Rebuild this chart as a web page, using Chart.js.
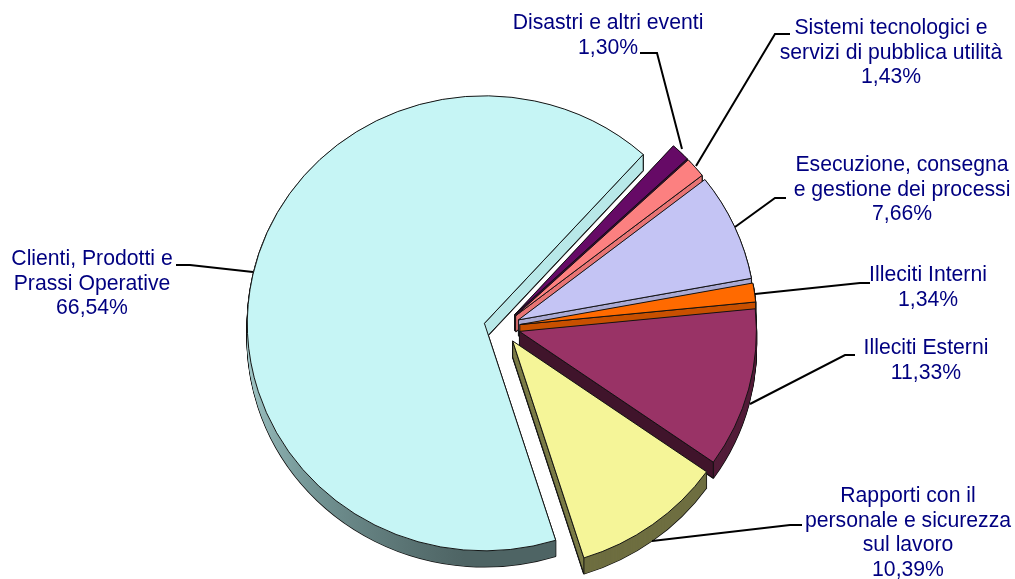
<!DOCTYPE html>
<html>
<head>
    <meta charset="utf-8">
    <script src="https://cdn.jsdelivr.net/npm/chart.js@4"></script>
    <style>
        html, body { margin: 0; background: #fff; }
        canvas { display: block; }
    </style>
</head>
<body>
    <canvas id="grafico" width="1015" height="579"></canvas>

    <script>
        const categorie = ["Clienti, Prodotti e Prassi Operative", "Disastri e altri eventi", "Sistemi tecnologici e servizi di pubblica utilità", "Esecuzione, consegna e gestione dei processi", "Illeciti Interni", "Illeciti Esterni", "Rapporti con il personale e sicurezza sul lavoro"];
        const valori = [66.54, 1.30, 1.43, 7.66, 1.34, 11.33, 10.39];

        const coloriSopra = ["#C6F5F5", "#660A66", "#FC8080", "#C4C4F4", "#FF6A00", "#993366", "#F5F598"];
        const coloriBordo = ["#5C8080", "#3A063A", "#C86060", "#9090B8", "#8A3C00", "#521C38", "#6E6E40"];
        const coloriFianco = ["#B8E8E8", "#3A063A", "#E87474", "#AAAAD4", "#C85000", "#40142B", "#7A7A45"];

        const righeEtichette = [
            ["Clienti, Prodotti e", "Prassi Operative", "66,54%"],
            ["Disastri e altri eventi", "1,30%"],
            ["Sistemi tecnologici e", "servizi di pubblica utilità", "1,43%"],
            ["Esecuzione, consegna", "e gestione dei processi", "7,66%"],
            ["Illeciti Interni", "1,34%"],
            ["Illeciti Esterni", "11,33%"],
            ["Rapporti con il", "personale e sicurezza", "sul lavoro", "10,39%"]
        ];
        const centroEtichette = [[92, 259], [608, 23], [891, 28], [902, 165], [928, 275], [926, 348], [908, 496]];
        const lineeGuida = [
            [[176, 265], [190, 265], [253, 272]],
            [[640, 53], [657, 53], [682, 149]],
            [[790, 34], [775, 34], [696, 166]],
            [[786, 198], [775, 198], [735, 227]],
            [[870, 283], [860, 283], [755, 294]],
            [[855, 355], [845, 355], [750, 404]],
            [[802, 525], [790, 525], [652, 541]]
        ];

        const esplosione = 18;
        const schiacciamento = 0.96;
        const spessore = 16;

        // disegna ogni fetta spostata e schiacciata, con il suo spessore sotto
        const torta3d = {
            id: "torta3d",
            beforeDatasetDraw(chart) {
                const ctx = chart.ctx;
                const archi = chart.getDatasetMeta(0).data;
                const cx = archi[0].x, cy = archi[0].y;

                // il bordo della fetta grande schiarisce verso sinistra
                const sfumatura = ctx.createLinearGradient(cx - 240, cy + 20, cx - 20, cy + 235);
                sfumatura.addColorStop(0, "#A4CACA");
                sfumatura.addColorStop(0.45, "#769898");
                sfumatura.addColorStop(1, "#4E6464");

                function disegna(arco, dy, opzioni) {
                    const mezzo = (arco.startAngle + arco.endAngle) / 2;
                    const originali = arco.options;
                    arco.options = Object.assign({}, originali, opzioni);
                    ctx.save();
                    ctx.translate(cx, cy + dy);
                    ctx.scale(1, schiacciamento);
                    ctx.translate(-cx, -cy);
                    ctx.translate(Math.cos(mezzo) * esplosione, Math.sin(mezzo) * esplosione);
                    arco.draw(ctx);
                    ctx.restore();
                    arco.options = originali;
                }

                function fianco(arco, colore) {
                    const mezzo = (arco.startAngle + arco.endAngle) / 2;
                    const ax = cx + Math.cos(mezzo) * esplosione;
                    const ay = cy + Math.sin(mezzo) * esplosione * schiacciamento;
                    const bx = ax + Math.cos(arco.endAngle) * arco.outerRadius;
                    const by = ay + Math.sin(arco.endAngle) * arco.outerRadius * schiacciamento;
                    ctx.save();
                    ctx.beginPath();
                    ctx.moveTo(ax, ay);
                    ctx.lineTo(bx, by);
                    ctx.lineTo(bx, by + spessore);
                    ctx.lineTo(ax, ay + spessore);
                    ctx.closePath();
                    ctx.fillStyle = colore;
                    ctx.strokeStyle = "#111";
                    ctx.lineWidth = 1;
                    ctx.fill();
                    ctx.stroke();
                    ctx.restore();
                }

                archi.forEach((arco, i) => {
                    for (let d = spessore; d > 0; d--) {
                        disegna(arco, d, { backgroundColor: "#111", borderColor: "#111", borderWidth: 1.5 });
                    }
                    for (let d = spessore; d > 0; d--) {
                        disegna(arco, d, { backgroundColor: i === 0 ? sfumatura : coloriBordo[i], borderWidth: 0 });
                    }
                    fianco(arco, coloriFianco[i]);
                    disegna(arco, 0, {});
                });
                return false;
            },
            afterDraw(chart) {
                const ctx = chart.ctx;
                ctx.save();
                ctx.strokeStyle = "#000";
                ctx.lineWidth = 2;
                lineeGuida.forEach(punti => {
                    ctx.beginPath();
                    punti.forEach((p, k) => k ? ctx.lineTo(p[0], p[1]) : ctx.moveTo(p[0], p[1]));
                    ctx.stroke();
                });
                ctx.fillStyle = "#000080";
                ctx.font = "21.2px 'Liberation Sans'";
                ctx.textAlign = "center";
                ctx.textBaseline = "middle";
                righeEtichette.forEach((righe, i) => {
                    righe.forEach((riga, k) => {
                        ctx.fillText(riga, centroEtichette[i][0], centroEtichette[i][1] + k * 24.7);
                    });
                });
                ctx.restore();
            }
        };

        new Chart(document.getElementById("grafico").getContext("2d"), {
            type: "pie",
            data: {
                labels: categorie,
                datasets: [{
                    data: valori,
                    backgroundColor: coloriSopra,
                    borderColor: "#111",
                    borderWidth: 1,
                    clip: false
                }]
            },
            options: {
                responsive: false,
                animation: false,
                rotation: 162.5,
                radius: 237,
                layout: { padding: { left: 0, right: 11, top: 75, bottom: 0 } },
                plugins: { legend: { display: false }, tooltip: { enabled: false } }
            },
            plugins: [torta3d]
        });
    </script>
</body>
</html>
